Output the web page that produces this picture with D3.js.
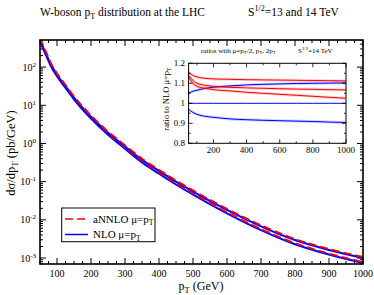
<!DOCTYPE html>
<html>
<head>
<meta charset="utf-8">
<script src="https://cdn.jsdelivr.net/npm/d3@7"></script>
<style>
body { margin: 0; background: #fff; }
text { font-family: "Liberation Serif", "Times New Roman", serif; fill: #000; }
</style>
</head>
<body>
<div id="chart"></div>
<script>
// main plot data (pb/GeV)
var pT = [50, 60, 70, 80, 100, 125, 150, 200, 250, 300, 350, 400, 450, 500, 600, 700, 800, 900, 1000];
var nlo14 = [513, 316, 200, 126, 63.1, 31.6, 15.8, 5.01, 1.91, 0.832, 0.372, 0.191, 0.100, 0.0550, 0.0182, 0.00676, 0.00295, 0.00162, 0.00100];
var nlo13 = [473, 291, 183, 115, 57.5, 28.7, 14.3, 4.47, 1.68, 0.724, 0.320, 0.162, 0.0841, 0.0457, 0.0148, 0.00537, 0.00229, 0.00123, 0.000741];
var kFactor = [1.14, 1.13, 1.12, 1.11, 1.10, 1.095, 1.09, 1.085, 1.082, 1.079, 1.077, 1.075, 1.074, 1.073, 1.07, 1.069, 1.068, 1.066, 1.065];

// inset: ratios to NLO mu=pT at 14 TeV
var pTr = [50, 75, 100, 150, 200, 300, 400, 500, 600, 700, 800, 900, 1000];
var annloHalf = [1.155, 1.14, 1.132, 1.125, 1.122, 1.12, 1.118, 1.117, 1.116, 1.115, 1.114, 1.113, 1.112];
var annloOne = [1.14, 1.115, 1.10, 1.09, 1.085, 1.08, 1.077, 1.075, 1.073, 1.071, 1.07, 1.068, 1.067];
var annloTwo = [1.13, 1.10, 1.085, 1.075, 1.068, 1.062, 1.055, 1.05, 1.045, 1.04, 1.035, 1.03, 1.025];
var nloHalf = [1.05, 1.06, 1.065, 1.075, 1.08, 1.087, 1.092, 1.095, 1.097, 1.099, 1.10, 1.101, 1.102];
var nloOne = [1, 1, 1, 1, 1, 1, 1, 1, 1, 1, 1, 1, 1];
var nloTwo = [0.97, 0.955, 0.945, 0.935, 0.93, 0.922, 0.918, 0.915, 0.913, 0.911, 0.909, 0.906, 0.904];

var xTicks = [100, 200, 300, 400, 500, 600, 700, 800, 900, 1000];
var yTicks = [1e-3, 1e-2, 1e-1, 1, 10, 100];
var insetXTicks = [200, 400, 600, 800, 1000];
var insetYTicks = [0.8, 0.9, 1.0, 1.1, 1.2];

var svgWidth = 374, svgHeight = 295;
var plot = {left: 40, right: 363, top: 40, bottom: 264};
var inset = {left: 188.6, right: 346, top: 63.3, bottom: 143.3};

var svg = d3.select("#chart").append("svg")
  .attr("width", svgWidth)
  .attr("height", svgHeight);

// text with sub/superscripts: parts = [[str, "n"|"sub"|"sup"], ...]
function rich(sel, parts, size) {
  var shift = 0;
  parts.forEach(function(p) {
    var dy = 0, fs = size;
    if (p[1] === "sub") { dy = size * 0.25; fs = size * 0.7; }
    if (p[1] === "sup") { dy = -size * 0.4; fs = size * 0.7; }
    sel.append("tspan")
      .attr("dy", dy - shift)
      .attr("font-size", fs)
      .text(p[0]);
    shift = dy;
  });
  return sel;
}

var x = d3.scaleLinear().domain([50, 1000]).range([plot.left, plot.right]);
var y = d3.scaleLog().domain([Math.pow(10, -3.157), Math.pow(10, 2.71)]).range([plot.bottom, plot.top]);

svg.append("clipPath").attr("id", "clipMain")
  .append("rect")
  .attr("x", plot.left).attr("y", plot.top)
  .attr("width", plot.right - plot.left).attr("height", plot.bottom - plot.top);

// minor ticks
var xMinor = d3.range(50, 1001, 25).filter(function(v) { return v % 100 !== 0; });
var yMinor = [];
for (var e = -4; e <= 2; e++) {
  for (var m = 2; m <= 9; m++) {
    var v = m * Math.pow(10, e);
    if (v >= y.domain()[0] && v <= y.domain()[1]) yMinor.push(v);
  }
}

function tickSet(g, xs, ys, scX, scY, box, len) {
  xs.forEach(function(v) {
    g.append("line").attr("x1", scX(v)).attr("x2", scX(v)).attr("y1", box.bottom).attr("y2", box.bottom - len);
    g.append("line").attr("x1", scX(v)).attr("x2", scX(v)).attr("y1", box.top).attr("y2", box.top + len);
  });
  ys.forEach(function(v) {
    g.append("line").attr("y1", scY(v)).attr("y2", scY(v)).attr("x1", box.left).attr("x2", box.left + len);
    g.append("line").attr("y1", scY(v)).attr("y2", scY(v)).attr("x1", box.right).attr("x2", box.right - len);
  });
}

var ticksG = svg.append("g").attr("stroke", "#000").attr("stroke-width", 1);
tickSet(ticksG, xTicks, yTicks, x, y, plot, 6);
tickSet(ticksG, xMinor, yMinor, x, y, plot, 3);

// curves
var line = d3.line()
  .x(function(d) { return x(d[0]); })
  .y(function(d) { return y(d[1]); })
  .curve(d3.curveMonotoneX);

var curvesG = svg.append("g").attr("clip-path", "url(#clipMain)").attr("fill", "none");
[nlo13, nlo14].forEach(function(series) {
  var nloPts = pT.map(function(p, i) { return [p, series[i]]; });
  var annloPts = pT.map(function(p, i) { return [p, series[i] * kFactor[i]]; });
  curvesG.append("path").attr("d", line(nloPts))
    .attr("stroke", "#0000ff").attr("stroke-width", 2);
  curvesG.append("path").attr("d", line(annloPts))
    .attr("stroke", "#ff0000").attr("stroke-width", 1.8).attr("stroke-dasharray", "8,4");
});

// frame
svg.append("rect")
  .attr("x", plot.left).attr("y", plot.top)
  .attr("width", plot.right - plot.left).attr("height", plot.bottom - plot.top)
  .attr("fill", "none").attr("stroke", "#000").attr("stroke-width", 1.6);

// x tick labels
svg.append("g").selectAll("text").data(xTicks).enter().append("text")
  .attr("x", function(d) { return x(d); })
  .attr("y", 276.5)
  .attr("text-anchor", "middle")
  .attr("font-size", 10)
  .text(function(d) { return d; });

// y tick labels
yTicks.forEach(function(v) {
  var t = svg.append("text")
    .attr("x", 36).attr("y", y(v) + 3.5)
    .attr("text-anchor", "end");
  rich(t, [["10", "n"], [String(Math.round(Math.log10(v))), "sup"]], 10);
});

// axis titles
rich(svg.append("text").attr("x", 201).attr("y", 290).attr("text-anchor", "middle"),
  [["p", "n"], ["T", "sub"], [" (GeV)", "n"]], 12);

rich(svg.append("text")
  .attr("transform", "translate(15,153) rotate(-90)")
  .attr("text-anchor", "middle"),
  [["d\u03c3/dp", "n"], ["T", "sub"], [" (pb/GeV)", "n"]], 12.5);

// title
rich(svg.append("text").attr("x", 40).attr("y", 16),
  [["W-boson p", "n"], ["T", "sub"], [" distribution at the LHC", "n"]], 11.5);
rich(svg.append("text").attr("x", 248).attr("y", 16),
  [["S", "n"], ["1/2", "sup"], ["=13 and 14 TeV", "n"]], 11.5);

// legend
var leg = svg.append("g");
leg.append("rect")
  .attr("x", 61.7).attr("y", 208).attr("width", 93.3).attr("height", 33.7)
  .attr("fill", "#fff").attr("stroke", "#000").attr("stroke-width", 1);
leg.append("line").attr("x1", 65).attr("x2", 88).attr("y1", 219).attr("y2", 219)
  .attr("stroke", "#ff0000").attr("stroke-width", 1.5).attr("stroke-dasharray", "8,4");
leg.append("line").attr("x1", 65).attr("x2", 88).attr("y1", 234.5).attr("y2", 234.5)
  .attr("stroke", "#0000ff").attr("stroke-width", 1.5);
rich(leg.append("text").attr("x", 93).attr("y", 222.5),
  [["aNNLO  \u03bc=p", "n"], ["T", "sub"]], 11);
rich(leg.append("text").attr("x", 93).attr("y", 238),
  [["NLO  \u03bc=p", "n"], ["T", "sub"]], 11);

// inset
var x2 = d3.scaleLinear().domain([50, 1000]).range([inset.left, inset.right]);
var y2 = d3.scaleLinear().domain([0.8, 1.2]).range([inset.bottom, inset.top]);

svg.append("clipPath").attr("id", "clipInset")
  .append("rect")
  .attr("x", inset.left).attr("y", inset.top)
  .attr("width", inset.right - inset.left).attr("height", inset.bottom - inset.top);

svg.append("rect")
  .attr("x", inset.left).attr("y", inset.top)
  .attr("width", inset.right - inset.left).attr("height", inset.bottom - inset.top)
  .attr("fill", "#fff");

var line2 = d3.line()
  .x(function(d) { return x2(d[0]); })
  .y(function(d) { return y2(d[1]); })
  .curve(d3.curveMonotoneX);

var insetG = svg.append("g").attr("clip-path", "url(#clipInset)").attr("fill", "none");
var ratioSeries = [
  {v: nloOne, c: "#0000ff", fuzz: false},
  {v: nloTwo, c: "#0000ff", fuzz: true},
  {v: nloHalf, c: "#0000ff", fuzz: true},
  {v: annloTwo, c: "#ff0000", fuzz: true},
  {v: annloOne, c: "#ff0000", fuzz: true},
  {v: annloHalf, c: "#ff0000", fuzz: true}
];
ratioSeries.forEach(function(s) {
  var pts = pTr.map(function(p, i) { return [p, s.v[i]]; });
  if (s.fuzz) {
    insetG.append("path").attr("d", line2(pts))
      .attr("stroke", s.c).attr("stroke-width", 3).attr("stroke-opacity", 0.18);
  }
  insetG.append("path").attr("d", line2(pts))
    .attr("stroke", s.c).attr("stroke-width", 1);
});

var insetTicks = svg.append("g").attr("stroke", "#000").attr("stroke-width", 0.8);
tickSet(insetTicks, insetXTicks, insetYTicks, x2, y2, inset, 4);
tickSet(insetTicks, [100, 300, 500, 700, 900], [0.85, 0.95, 1.05, 1.15], x2, y2, inset, 2);

svg.append("rect")
  .attr("x", inset.left).attr("y", inset.top)
  .attr("width", inset.right - inset.left).attr("height", inset.bottom - inset.top)
  .attr("fill", "none").attr("stroke", "#000").attr("stroke-width", 1);

svg.append("g").selectAll("text").data(insetXTicks).enter().append("text")
  .attr("x", function(d) { return x2(d); })
  .attr("y", 153)
  .attr("text-anchor", "middle")
  .attr("font-size", 9)
  .text(function(d) { return d; });

svg.append("g").selectAll("text").data(insetYTicks).enter().append("text")
  .attr("x", 185)
  .attr("y", function(d) { return y2(d) + 3; })
  .attr("text-anchor", "end")
  .attr("font-size", 9)
  .text(function(d) { return d === 1 ? "1" : d.toFixed(1); });

rich(svg.append("text")
  .attr("transform", "translate(169,99) rotate(-90)")
  .attr("text-anchor", "middle"),
  [["ratio to NLO \u03bc=p", "n"], ["T", "sub"]], 8.5);

rich(svg.append("text").attr("x", 201).attr("y", 52.5),
  [["ratios with \u03bc=p", "n"], ["T", "sub"], ["/2, p", "n"], ["T", "sub"], [", 2p", "n"], ["T", "sub"]], 7);
rich(svg.append("text").attr("x", 298).attr("y", 52.5),
  [["S", "n"], ["1/2", "sup"], ["=14 TeV", "n"]], 7);
</script>
</body>
</html>
